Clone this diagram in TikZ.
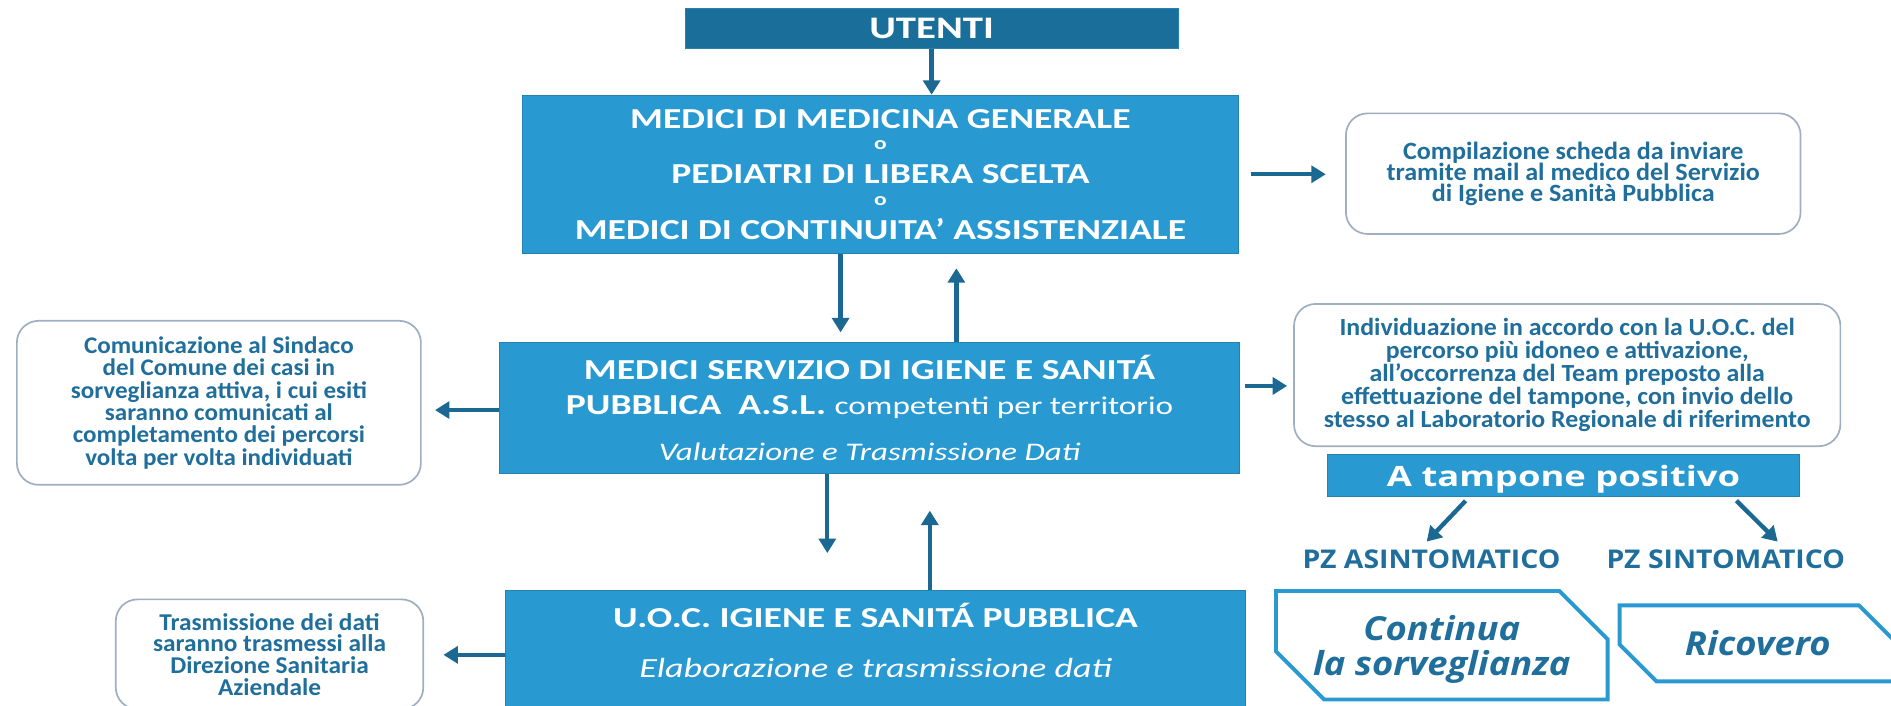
\documentclass[tikz,border=0pt]{standalone}
\usepackage{fontspec}
\setmainfont{Carlito}
\newfontfamily\widefont{Carlito}[FakeStretch=1.3]
\newfontfamily\notefont{Carlito}[FakeStretch=1.05]
\newfontfamily\opensans{Open Sans}[FakeStretch=1.1]
\newfontfamily\widesans{Open Sans}[FakeStretch=1.3]
\usetikzlibrary{
    arrows.meta,
    shapes.misc,
    positioning
}
\definecolor{boxblue}{RGB}{41,153,210}
\definecolor{topblue}{RGB}{26,111,154}
\definecolor{arrowblue}{RGB}{27,104,146}
\definecolor{textblue}{RGB}{31,110,155}
\definecolor{framegrey}{RGB}{160,174,194}
\setlength{\lineskiplimit}{-100pt}

\begin{document}
\begin{tikzpicture}[x=0.5pt, y=-0.5pt,
    bluebox/.style={fill=boxblue, draw=boxblue!85!black, line width=0.4pt, text=white, align=center, inner sep=0pt},
    notebox/.style={draw=framegrey, line width=0.7pt, rounded corners=9pt, fill=white, text=textblue, align=center, inner sep=0pt},
    cutbox/.style={chamfered rectangle, chamfered rectangle corners={north east,south west}, chamfered rectangle xsep=10pt, chamfered rectangle ysep=10pt, draw=boxblue, line width=1.6pt, text=textblue, align=center, inner sep=0pt, font=\opensans\bfseries\itshape\fontsize{13.7}{14.5}\selectfont},
    pzlabel/.style={text=textblue, font=\opensans\bfseries\fontsize{10.7}{11}\selectfont},
    arr/.style={arrowblue, line width=1.8pt, -{Triangle[width=7pt,length=6pt]}}]
    \useasboundingbox (0,0) rectangle (1568,585);

    \node[bluebox, fill=topblue, minimum width=204.5pt, minimum height=16.5pt, font=\widefont\bfseries\fontsize{13}{13}\selectfont] (ut) at (772.5, 23.5) {UTENTI};
    \node[bluebox, minimum width=297pt, minimum height=65.5pt, font=\widefont\bfseries\fontsize{12}{11.5}\selectfont] (mmg) at (730, 144.5) {MEDICI DI MEDICINA GENERALE\\\raisebox{2.5pt}{\fontsize{7.5}{8}\selectfont o}\\PEDIATRI DI LIBERA SCELTA\\\raisebox{2.5pt}{\fontsize{7.5}{8}\selectfont o}\\MEDICI DI CONTINUITA’ ASSISTENZIALE};
    \node[bluebox, minimum width=307pt, minimum height=54.5pt, font=\widefont\bfseries\fontsize{12}{14.5}\selectfont] (sisp) at (721, 338.5) {MEDICI SERVIZIO DI IGIENE E SANITÁ\\PUBBLICA\ \ A.S.L. {\mdseries\fontsize{10.6}{14.5}\selectfont competenti per territorio}\\[4.5pt]{\mdseries\itshape\fontsize{10.5}{14.5}\selectfont Valutazione e Trasmissione Dati}};
    \node[bluebox, minimum width=307pt, minimum height=48pt, text depth=7pt, font=\widefont\bfseries\fontsize{12}{20.5}\selectfont] (uoc) at (726, 538) {U.O.C. IGIENE E SANITÁ PUBBLICA\\{\mdseries\itshape\fontsize{11.5}{20.5}\selectfont Elaborazione e trasmissione dati}};

    \node[notebox, minimum width=188.5pt, minimum height=50pt, font=\notefont\bfseries\fontsize{10.3}{8.8}\selectfont] (comp) at (1304.5, 144) {Compilazione scheda da inviare\\tramite mail al medico del Servizio\\di Igiene e Sanità Pubblica};
    \node[notebox, minimum width=167.5pt, minimum height=68pt, font=\notefont\bfseries\fontsize{9.9}{9.3}\selectfont] (com) at (181.5, 334) {Comunicazione al Sindaco\\del Comune dei casi in\\sorveglianza attiva, i cui esiti\\saranno comunicati al\\completamento dei percorsi\\volta per volta individuati};
    \node[notebox, minimum width=226.5pt, minimum height=59pt, font=\notefont\bfseries\fontsize{10.2}{9.6}\selectfont] (ind) at (1299.5, 311) {Individuazione in accordo con la U.O.C. del\\percorso più idoneo e attivazione,\\all’occorrenza del Team preposto alla\\effettuazione del tampone, con invio dello\\stesso al Laboratorio Regionale di riferimento};
    \node[notebox, minimum width=127.5pt, minimum height=45.5pt, font=\notefont\bfseries\fontsize{10}{9}\selectfont] (tras) at (223.5, 542.5) {Trasmissione dei dati\\saranno trasmessi alla\\Direzione Sanitaria\\Aziendale};

    \node[bluebox, minimum width=195.5pt, minimum height=17.5pt, text depth=0pt, font=\widesans\bfseries\fontsize{11.6}{11.6}\selectfont] (tp) at (1296.5, 394.5) {A tampone positivo};
    \node[pzlabel] (pza) at (1187, 464) {PZ ASINTOMATICO};
    \node[pzlabel] (pzs) at (1431, 464) {PZ SINTOMATICO};
    \node[cutbox, minimum width=137.5pt, minimum height=45pt, text depth=0pt] (cont) at (1195.5, 535) {Continua\\la sorveglianza};
    \node[cutbox, minimum width=114.5pt, minimum height=31.5pt] (ric) at (1457.5, 533.5) {Ricovero};

    \path[arr]
    (ut) edge (ut.south |- mmg.north)
    (mmg.east) edge[shorten <=5pt, shorten >=8pt] (mmg.east -| comp.west)
    ([xshift=-16.5pt]mmg.south) edge[shorten >=4pt] ([xshift=-12pt]sisp.north)
    ([xshift=36pt]sisp.north) edge[shorten >=6pt] ([xshift=31.5pt]mmg.south)
    ([yshift=-0.75pt]sisp.west) edge[shorten >=5.5pt] ([yshift=-0.75pt]sisp.west -| com.east)
    ([yshift=9.25pt]sisp.east) edge[shorten <=2pt, shorten >=2.5pt] ([yshift=9.25pt]sisp.east -| ind.west)
    ([xshift=-17.5pt]sisp.south) edge[shorten >=15.5pt] ([xshift=-20pt]uoc.north)
    ([xshift=22.5pt]uoc.north) edge[shorten >=15pt] ([xshift=25pt]sisp.south)
    ([yshift=-2.5pt]uoc.west) edge[shorten >=8pt] ([yshift=-2.5pt]uoc.west -| tras.east)
    ([xshift=-39.25pt]tp.south) edge[shorten <=2pt] ([xshift=-2pt]pza.north)
    ([xshift=70.25pt]tp.south) edge[shorten <=2pt] ([xshift=21.5pt]pzs.north);
\end{tikzpicture}
\end{document}
